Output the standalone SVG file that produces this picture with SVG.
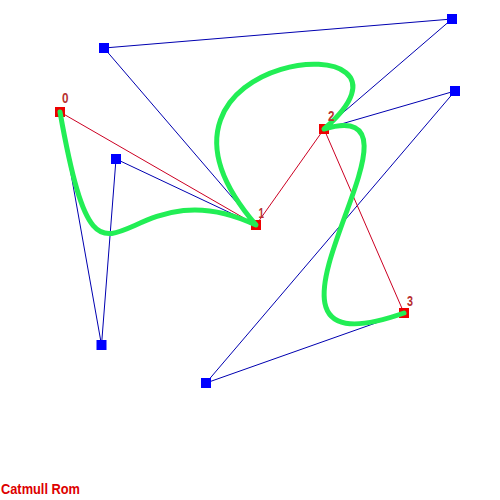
<svg xmlns="http://www.w3.org/2000/svg" width="500" height="500" viewBox="0 0 500 500">
<style>
.ctl{stroke:#0000b0;stroke-width:1;fill:none}
.pol{stroke:#cc0022;stroke-width:1;fill:none}
.crv{stroke:#22ee55;stroke-width:5;fill:none;stroke-linecap:round;stroke-linejoin:round}
.bsq{fill:#0000ff}
.rsq{fill:#ee0000}
.lbl{font-family:"Liberation Sans",Arial,sans-serif;font-size:14px;font-weight:bold;fill:#b83030}
.ttl{font-family:"Liberation Sans",Arial,sans-serif;font-size:15px;font-weight:bold;fill:#dd0000}
</style>
<rect width="500" height="500" fill="#ffffff"/>
<g id="connectors">
<polyline class="ctl" points="60,112 101.5,345 116,159 256,225"/>
<polyline class="ctl" points="256,225 104,48 452,19 324,129"/>
<polyline class="ctl" points="324,129 455,91 206,383 404,313"/>
<polyline class="pol" points="60,112 256,225 324,129 404,313"/>
</g>
<g id="control-points">
<rect id="c1" class="bsq" x="96.5" y="340" width="10" height="10"/>
<rect id="c2" class="bsq" x="111" y="154" width="10" height="10"/>
<rect id="c3" class="bsq" x="99" y="43" width="10" height="10"/>
<rect id="c4" class="bsq" x="447" y="14" width="10" height="10"/>
<rect id="c5" class="bsq" x="450" y="86" width="10" height="10"/>
<rect id="c6" class="bsq" x="201" y="378" width="10" height="10"/>
</g>
<g id="p0"><rect class="rsq" x="55" y="107" width="10" height="10"/></g>
<g id="p1"><rect class="rsq" x="251" y="220" width="10" height="10"/></g>
<g id="p2"><rect class="rsq" x="319" y="124" width="10" height="10"/></g>
<g id="p3"><rect class="rsq" x="399" y="308" width="10" height="10"/></g>
<g id="curve">
<path class="crv" d="M60,112 C101.5,345 116,159 256,225 C104,48 452,19 324,129 C455,91 206,383 404,313"/>
</g>
<g id="labels">
<text class="lbl" x="62" y="103" textLength="6.5" lengthAdjust="spacingAndGlyphs">0</text>
<text class="lbl" x="258.5" y="218" textLength="5.5" lengthAdjust="spacingAndGlyphs">1</text>
<text class="lbl" x="328" y="121" textLength="6.5" lengthAdjust="spacingAndGlyphs">2</text>
<text class="lbl" x="407" y="306" textLength="6" lengthAdjust="spacingAndGlyphs">3</text>
</g>
<text class="ttl" x="1" y="494" textLength="79" lengthAdjust="spacingAndGlyphs">Catmull Rom</text>
</svg>
